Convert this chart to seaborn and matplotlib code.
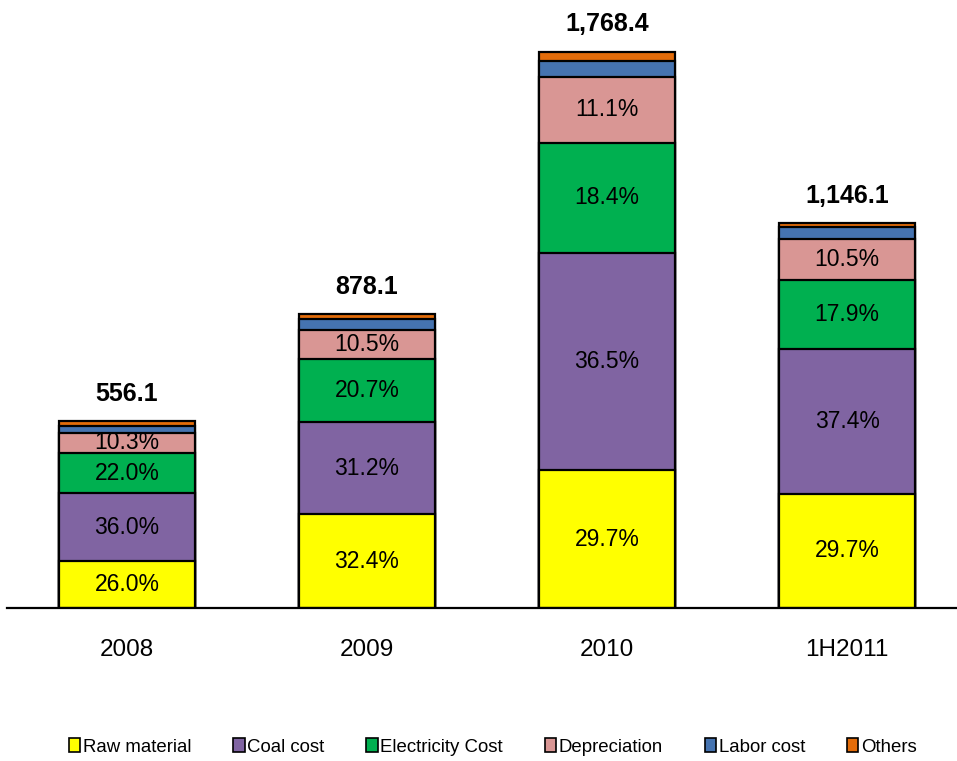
import numpy as np
import pandas as pd
import matplotlib
matplotlib.use("Agg")
import matplotlib.pyplot as plt
import seaborn as sns
from matplotlib.patches import Patch
from matplotlib import font_manager

periods = ["2008", "2009", "2010", "1H2011"]
totals = [556.1, 878.1, 1768.4, 1146.1]
components = ["Raw material", "Coal cost", "Electricity Cost", "Depreciation", "Labor cost", "Others"]
colors = ["#FFFF00", "#8064A2", "#00B050", "#D99694", "#4573B0", "#E36C0A"]

# segment sizes as drawn in the picture
raw_material = [149, 298, 438, 362]
coal_cost = [216, 292, 689, 460]
electricity_cost = [127, 200, 349, 219]
depreciation = [64, 92, 210, 130]
labor_cost = [22, 35, 51, 37]
others = [16, 16, 29, 14]

# printed shares
raw_pct = [26.0, 32.4, 29.7, 29.7]
coal_pct = [36.0, 31.2, 36.5, 37.4]
elec_pct = [22.0, 20.7, 18.4, 17.9]
dep_pct = [10.3, 10.5, 11.1, 10.5]

instalados = {f.name for f in font_manager.fontManager.ttflist}
fonte_estreita = "Liberation Sans Narrow" if "Liberation Sans Narrow" in instalados else "Liberation Sans"
tam_rotulo = 17.5 if fonte_estreita == "Liberation Sans Narrow" else 16.5

sns.set_style("white")
plt.rcParams["font.family"] = ["Liberation Sans", "DejaVu Sans"]
plt.rcParams["text.color"] = "black"
plt.rcParams["xtick.color"] = "black"

segmentos = np.array([raw_material, coal_cost, electricity_cost, depreciation, labor_cost, others], dtype=float)
acumulado = segmentos.cumsum(axis=0)

fig = plt.figure(figsize=(9.57, 7.61), dpi=100)
ax = fig.add_axes([7 / 957, 153 / 761, 950 / 957, 608 / 761])

# draw cumulative bars from the top down so each layer covers the one below
for i in range(len(components) - 1, -1, -1):
    df = pd.DataFrame({"periodo": periods, "valor": acumulado[i]})
    sns.barplot(data=df, x="periodo", y="valor", order=periods, color=colors[i],
                width=0.57, edgecolor="black", linewidth=1.6, saturation=1, ax=ax)

ax.set_xlim(-0.5, 3.458)
ax.set_ylim(0, 1930)
ax.set_xlabel("")
ax.set_ylabel("")
ax.set_yticks([])
ax.tick_params(axis="x", length=0, pad=22, labelsize=17.5, labelcolor="black")
for lado in ["left", "right", "top"]:
    ax.spines[lado].set_visible(False)
ax.spines["bottom"].set_color("black")
ax.spines["bottom"].set_linewidth(1.6)

rotulos = [raw_pct, coal_pct, elec_pct, dep_pct]
for k, pct in enumerate(rotulos):
    base = acumulado[k] - segmentos[k]
    for j in range(len(periods)):
        ax.text(j, base[j] + segmentos[k][j] / 2, f"{pct[j]:.1f}%", ha="center", va="center",
                fontsize=tam_rotulo, family=[fonte_estreita, "Liberation Sans"], color="black")

for j, t in enumerate(totals):
    ax.annotate(f"{t:,.1f}", xy=(j, acumulado[-1][j]), xytext=(0, 11), textcoords="offset points",
                ha="center", va="bottom", fontsize=18, fontweight="bold", color="black")

alcas = [Patch(facecolor=c, edgecolor="black", linewidth=1.2) for c in colors]
leg = fig.legend(alcas, components, loc="center", bbox_to_anchor=(493 / 957, 1 - 747 / 761),
                 ncol=6, frameon=False, fontsize=13.4, handlelength=0.6, handleheight=0.75,
                 handletextpad=0.15, columnspacing=2.25)
for t in leg.get_texts():
    t.set_color("black")

fig.savefig("out.png", dpi=100)
